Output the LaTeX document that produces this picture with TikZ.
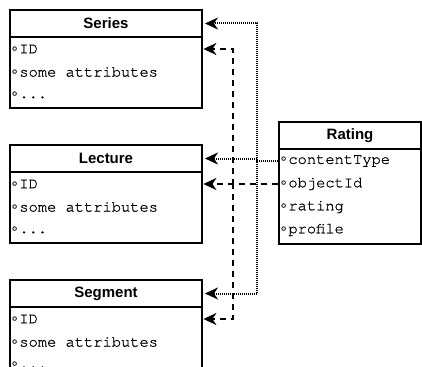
\documentclass[tikz,border=0pt]{standalone}
\usepackage{fontspec}
\setmainfont{Liberation Sans}
\newfontfamily\rowfont[FakeBold=0.8]{TeX Gyre Cursor}
\newfontfamily\bulfont{DejaVu Sans}
\newcommand{\bul}{\makebox[9.2pt][c]{\bulfont\fontsize{14}{18}\selectfont ∘}}
\newcommand{\msp}{\makebox[0.6em]{}}
\usetikzlibrary{arrows.meta}
\begin{document}
\begin{tikzpicture}[x=1pt,y=-1pt,
  box/.style={draw=black, line width=2pt, fill=white, anchor=north west, inner sep=0pt},
  titlebox/.style={box, minimum height=27pt, font=\fontsize{15}{18}\selectfont\bfseries},
  bodybox/.style={box},
  rowtext/.style={anchor=west, inner xsep=1pt, inner ysep=0pt, minimum height=23pt,
    text width=#1, align=left, font=\rowfont\fontsize{15.4}{18}\selectfont},
  tip/.style={-{Stealth[length=13pt,width=12pt,inset=4pt]}, shorten >=2pt},
  dotconn/.style={tip, line width=2pt, dash pattern=on 1pt off 1pt},
  dashconn/.style={tip, line width=2pt, dash pattern=on 6pt off 5pt}
]
\path[use as bounding box] (0,0) rectangle (422,366);
\clip (0,0) rectangle (422,366);

% Series
\node[titlebox, minimum width=192pt] (seriesT) at (9,9) {Series};
\node[bodybox, minimum width=192pt, minimum height=71pt] (seriesB) at (9,36) {};
\node[rowtext=190pt] (seriesID) at (9,49) {\bul ID};
\node[rowtext=190pt] (seriesA) at (9,72) {\bul some\msp attributes};
\node[rowtext=190pt] (seriesE) at (9,95) {\bul ...};

% Lecture
\node[titlebox, minimum width=192pt] (lectureT) at (9,144) {Lecture};
\node[bodybox, minimum width=192pt, minimum height=71pt] (lectureB) at (9,171) {};
\node[rowtext=190pt] (lectureID) at (9,184) {\bul ID};
\node[rowtext=190pt] (lectureA) at (9,207) {\bul some\msp attributes};
\node[rowtext=190pt] (lectureE) at (9,230) {\bul ...};

% Segment
\node[titlebox, minimum width=192pt] (segmentT) at (9,279) {Segment};
\node[bodybox, minimum width=192pt, minimum height=71pt] (segmentB) at (9,306) {};
\node[rowtext=190pt] (segmentID) at (9,319) {\bul ID};
\node[rowtext=190pt] (segmentA) at (9,342) {\bul some\msp attributes};
\node[rowtext=190pt] (segmentE) at (9,365) {\bul ...};

% Rating
\node[titlebox, minimum width=142pt] (ratingT) at (278,121) {Rating};
\node[bodybox, minimum width=142pt, minimum height=95pt] (ratingB) at (278,148) {};
\node[rowtext=140pt] (rCT) at (278,161) {\bul contentType};
\node[rowtext=140pt] (rOI) at (278,184) {\bul objectId};
\node[rowtext=140pt] (rRa) at (278,207) {\bul rating};
\node[rowtext=140pt] (rPr) at (278,230) {\bul profile};

% dotted connectors (contentType)
\draw[dotconn] (rCT.west) -- ++(-21,0) |- (seriesT.east);
\draw[dotconn] (rCT.west) -- ++(-21,0) |- (lectureT.east);
\draw[dotconn] (rCT.west) -- ++(-21,0) |- (segmentT.east);

% dashed connectors (objectId)
\draw[dashconn] (rOI.west) -- ++(-45,0) |- (seriesID.east);
\draw[dashconn] (rOI.west) -- (lectureID.east);
\draw[dashconn] (rOI.west) -- ++(-45,0) |- (segmentID.east);
\end{tikzpicture}
\end{document}
